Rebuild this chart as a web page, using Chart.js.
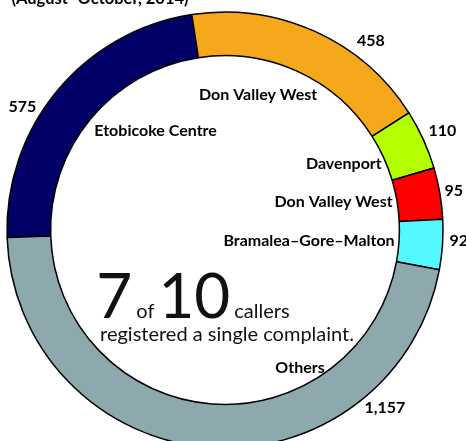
<!DOCTYPE html>
<html>
<head>
<meta charset="utf-8">
<script src="https://cdn.jsdelivr.net/npm/chart.js@4/dist/chart.umd.min.js"></script>
<style>
  body { margin: 0; background: #fff; }
  canvas { display: block; }
</style>
</head>
<body>
<canvas id="chart" width="466" height="441"></canvas>
<script>
const ridings = ['Etobicoke Centre', 'Don Valley West', 'Davenport', 'Don Valley West', 'Bramalea–Gore–Malton', 'Others'];
const complaints = [575, 458, 110, 95, 92, 1157];
const valueLabels = ['575', '458', '110', '95', '92', '1,157'];
const sliceColors = ['#000066', '#F5A81C', '#B4FF00', '#FF0000', '#55F8FF', '#8DA9AD'];
const subtitle = '(August–October, 2014)';

// where each label sits on its slice: t = fraction along the arc, r = px from the centre
const valueSpots = [
  {t: 0.40, r: 237}, {t: 0.70, r: 239}, {t: 0.5, r: 239},
  {t: 0.5, r: 232}, {t: 0.41, r: 234}, {t: 0.224, r: 239}
];
const nameSpots = [
  {t: 0.685, r: 121, align: 'center'}, {t: 0.34, r: 139, align: 'center'},
  {t: 0.61, r: 170, align: 'right'}, {t: 0.51, r: 170, align: 'right'},
  {t: 0.49, r: 170, align: 'right'}, {t: 0.304, r: 157, align: 'center'}
];

const ringLabels = {
  id: 'ringLabels',
  afterDatasetsDraw(chart) {
    const ctx = chart.ctx;
    const arcs = chart.getDatasetMeta(0).data;
    ctx.save();
    ctx.fillStyle = '#000';
    ctx.textBaseline = 'middle';
    ctx.font = 'bold 16px Lato';
    arcs.forEach((arc, i) => {
      const p = arc.getProps(['x', 'y', 'startAngle', 'endAngle']);
      function at(s) {
        const a = p.startAngle + s.t * (p.endAngle - p.startAngle);
        return [p.x + s.r * Math.cos(a), p.y + s.r * Math.sin(a)];
      }
      let v = at(valueSpots[i]);
      ctx.textAlign = 'center';
      ctx.fillText(valueLabels[i], v[0], v[1]);
      let n = at(nameSpots[i]);
      ctx.textAlign = nameSpots[i].align;
      ctx.fillText(ridings[i], n[0], n[1]);
    });

    // centre caption
    const cx = arcs[0].x, cy = arcs[0].y;
    ctx.fillStyle = '#111';
    ctx.textBaseline = 'alphabetic';
    ctx.textAlign = 'left';
    const parts = [['7', '62px Lato'], ['of', '20px Lato'], ['10', '62px Lato'], ['callers', '20px Lato']];
    let w = 0;
    parts.forEach(pt => { ctx.font = pt[1]; w += ctx.measureText(pt[0]).width + 4; });
    let x = cx - 30 - w / 2;
    parts.forEach(pt => {
      ctx.font = pt[1];
      ctx.fillText(pt[0], x, cy + 88);
      x += ctx.measureText(pt[0]).width + 4;
    });
    ctx.font = '20px Lato';
    ctx.textAlign = 'center';
    ctx.fillText('registered a single complaint.', cx + 2, cy + 111);

    // subtitle, cut off at the top edge
    ctx.fillStyle = '#000';
    ctx.font = 'bold 16.5px Lato';
    ctx.fillText(subtitle, 100, 4);
    ctx.restore();
  }
};

new Chart(document.getElementById('chart'), {
  type: 'doughnut',
  data: {
    labels: ridings,
    datasets: [{
      data: complaints,
      backgroundColor: sliceColors,
      borderColor: '#000',
      borderWidth: 1.5
    }]
  },
  options: {
    responsive: false,
    animation: false,
    rotation: 268,
    radius: 218,
    cutout: '80%',
    layout: { padding: { left: 0, right: 16, top: 19, bottom: 0 } },
    plugins: { legend: { display: false }, tooltip: { enabled: false } }
  },
  plugins: [ringLabels]
});
</script>
</body>
</html>
